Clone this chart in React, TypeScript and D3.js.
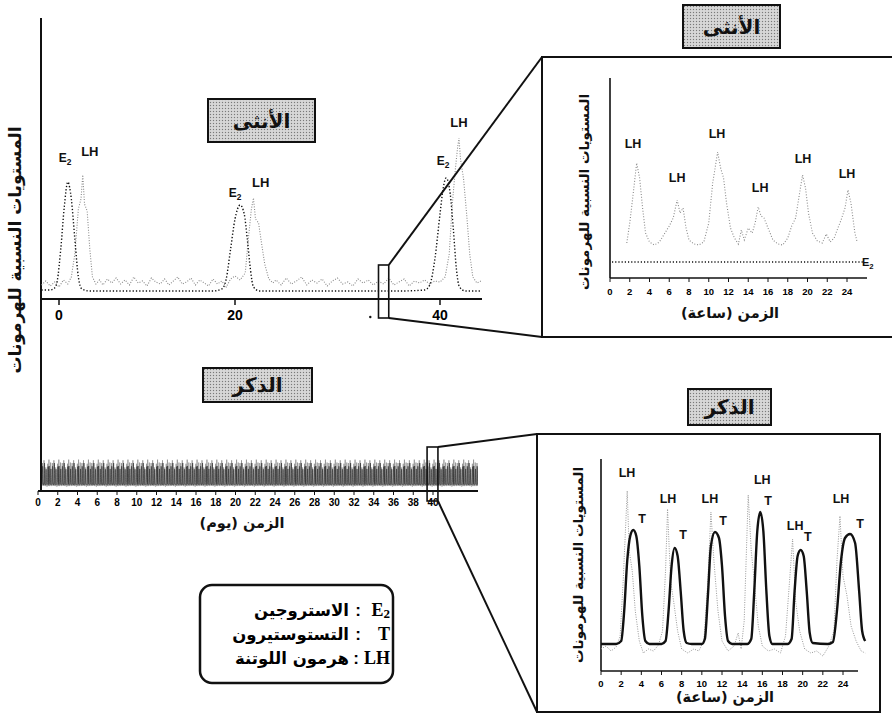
import React from 'react';
import * as d3 from 'd3';

// ---- female, 44 days (day, relative level) ----
const e2FemaleDays = [
  [-2, 9], [-1, 9], [-0.5, 11], [-0.2, 18], [0.2, 50], [0.6, 92], [1.0, 117], [1.4, 100], [1.8, 60],
  [2.2, 22], [2.6, 10], [3.5, 8], [8, 8], [13, 8], [17.5, 8], [18.5, 10], [19.0, 20], [19.5, 50],
  [20.0, 80], [20.5, 94], [20.9, 85], [21.2, 60], [21.5, 30], [21.8, 12], [22.4, 8], [27, 8], [32, 8],
  [36, 8], [38.5, 9], [39.0, 14], [39.5, 40], [40.0, 85], [40.3, 110], [40.6, 121], [41.0, 105],
  [41.3, 70], [41.6, 30], [41.9, 12], [42.5, 8], [44, 8],
];
const lhFemaleDays = [
  [-2, 14], [-1.5, 18], [-1, 13], [-0.5, 17], [0, 12], [0.5, 19], [1, 15], [1.4, 22], [1.8, 45],
  [2.2, 90], [2.5, 100], [2.7, 124], [2.9, 95], [3.2, 88], [3.5, 50], [3.8, 22], [4.2, 15], [4.6, 19],
  [5, 14], [5.5, 20], [6, 16], [6.5, 21], [7, 15], [7.5, 19], [8, 14], [8.5, 22], [9, 16], [9.5, 18],
  [10, 13], [10.5, 21], [11, 17], [11.5, 15], [12, 20], [12.5, 14], [13, 18], [13.5, 22], [14, 15],
  [14.5, 17], [15, 21], [15.5, 14], [16, 19], [16.5, 16], [17, 13], [17.5, 20], [18, 15], [18.5, 18],
  [19, 12], [19.5, 20], [20, 23], [20.5, 19], [21, 26], [21.3, 60], [21.6, 90], [21.8, 101], [22.0, 80],
  [22.3, 76], [22.6, 55], [22.9, 35], [23.3, 20], [23.7, 16], [24, 19], [24.5, 14], [25, 21], [25.5, 15],
  [26, 18], [26.5, 22], [27, 14], [27.5, 19], [28, 16], [28.5, 20], [29, 13], [29.5, 18], [30, 21],
  [30.5, 15], [31, 17], [31.5, 13], [32, 20], [32.5, 16], [33, 19], [33.5, 14], [34, 18], [34.5, 15],
  [35, 21], [35.5, 14], [36, 17], [36.5, 20], [37, 13], [37.5, 18], [38, 16], [38.5, 19], [39, 15],
  [39.5, 18], [40, 17], [40.5, 22], [40.9, 45], [41.2, 95], [41.5, 130], [41.7, 150], [41.85, 161],
  [42.0, 140], [42.3, 120], [42.6, 85], [42.9, 45], [43.2, 22], [43.6, 16], [44, 18],
];
const femaleDayTicks = [0, 20, 40];
const femaleMainLabels = [
  { t: 'E', s: '2', x: 0.7, v: 137 }, { t: 'LH', x: 3.5, v: 143 },
  { t: 'E', s: '2', x: 20, v: 102 }, { t: 'LH', x: 22.5, v: 112 },
  { t: 'E', s: '2', x: 40.3, v: 134 }, { t: 'LH', x: 41.85, v: 172 },
];
const femaleZoomDays = [34, 35];

// ---- female, 24 hours ----
const lhFemaleHours = [
  [1.7, 35], [2.0, 55], [2.3, 80], [2.7, 115], [3.0, 100], [3.3, 70], [3.6, 45], [4.0, 36], [4.5, 33],
  [5.0, 36], [5.5, 44], [6.0, 52], [6.4, 60], [6.8, 78], [7.1, 65], [7.4, 70], [7.7, 50], [8.0, 38],
  [8.5, 34], [9.0, 33], [9.5, 36], [10.0, 55], [10.4, 95], [10.9, 126], [11.2, 110], [11.5, 100],
  [11.8, 75], [12.2, 50], [12.6, 40], [13.0, 34], [13.3, 48], [13.6, 38], [14.0, 50], [14.4, 45],
  [14.7, 55], [15.0, 71], [15.3, 62], [15.6, 60], [16.0, 50], [16.5, 38], [17.0, 34], [17.5, 33],
  [18.0, 40], [18.4, 52], [18.8, 60], [19.2, 85], [19.5, 103], [19.8, 90], [20.1, 65], [20.5, 45],
  [21.0, 37], [21.5, 35], [21.9, 44], [22.3, 36], [22.7, 40], [23.0, 48], [23.4, 58], [23.8, 70],
  [24.1, 88], [24.4, 75], [24.8, 45], [25.0, 37],
];
const e2FemaleHours = [[0.2, 16], [25.6, 16]];
const femaleHourLabels = [
  { t: 'LH', x: 2.33, v: 130 }, { t: 'LH', x: 6.8, v: 96 }, { t: 'LH', x: 10.84, v: 140 },
  { t: 'LH', x: 15.2, v: 86 }, { t: 'LH', x: 19.55, v: 115 }, { t: 'LH', x: 24, v: 100 },
];
const hourTicks = [0, 2, 4, 6, 8, 10, 12, 14, 16, 18, 20, 22, 24];

// ---- male, 24 hours ----
const tMaleHours = [
  [0, 27], [1.5, 27], [2.0, 30], [2.3, 60], [2.6, 110], [2.9, 135], [3.2, 141], [3.5, 135], [3.8, 105],
  [4.1, 55], [4.4, 30], [4.8, 27], [6.0, 27], [6.4, 30], [6.7, 60], [7.0, 105], [7.3, 123], [7.6, 115],
  [7.9, 80], [8.2, 40], [8.5, 28], [9.0, 27], [10.0, 27], [10.3, 32], [10.6, 75], [10.9, 125],
  [11.3, 139], [11.7, 133], [12.0, 105], [12.3, 55], [12.6, 30], [13.0, 27], [14.5, 27], [14.9, 32],
  [15.2, 80], [15.5, 140], [15.8, 159], [16.1, 140], [16.4, 80], [16.7, 35], [17.0, 27], [18.5, 27],
  [18.9, 32], [19.2, 80], [19.5, 115], [19.8, 121], [20.1, 115], [20.4, 80], [20.7, 38], [21.0, 28],
  [22.5, 27], [23.0, 29], [23.4, 60], [23.8, 110], [24.2, 133], [24.7, 137], [25.2, 128], [25.6, 80],
  [25.9, 40], [26.2, 30],
];
const lhMaleHours = [
  [0, 22], [0.5, 25], [1.0, 20], [1.5, 24], [1.9, 35], [2.2, 90], [2.6, 180], [2.8, 120], [3.1, 100],
  [3.4, 60], [3.8, 30], [4.2, 18], [4.7, 22], [5.2, 20], [5.7, 26], [6.1, 40], [6.4, 100], [6.6, 162],
  [6.9, 90], [7.2, 70], [7.6, 40], [8.0, 22], [8.6, 18], [9.2, 22], [9.7, 20], [10.2, 30], [10.6, 90],
  [10.9, 159], [11.2, 110], [11.6, 60], [12.0, 30], [12.6, 20], [13.2, 25], [13.6, 38], [13.9, 22],
  [14.2, 50], [14.6, 176], [14.9, 120], [15.2, 90], [15.6, 45], [16.0, 25], [16.6, 20], [17.2, 22],
  [17.8, 18], [18.3, 35], [18.7, 90], [19.0, 132], [19.3, 70], [19.7, 40], [20.2, 22], [20.8, 18],
  [21.4, 20], [22.0, 15], [22.6, 25], [23.1, 40], [23.4, 110], [23.7, 155], [24.0, 95], [24.4, 75],
  [24.8, 45], [25.3, 30], [25.8, 20], [26.2, 18],
];
const maleHourLabels = [
  { t: 'LH', x: 2.58, v: 194 }, { t: 'T', x: 4.07, v: 148 },
  { t: 'LH', x: 6.65, v: 168 }, { t: 'T', x: 8.13, v: 132 },
  { t: 'LH', x: 10.8, v: 168 }, { t: 'T', x: 12.1, v: 146 },
  { t: 'LH', x: 16.0, v: 187 }, { t: 'T', x: 16.57, v: 166 },
  { t: 'LH', x: 19.25, v: 141 }, { t: 'T', x: 20.5, v: 130 },
  { t: 'LH', x: 23.8, v: 168 }, { t: 'T', x: 25.7, v: 143 },
];

// ---- male, 40 days ----
const maleDayTicks = d3.range(0, 41, 2);
const maleDays = d3.range(0, 45);
const maleZoomDays = [39.4, 40.5];

const yLabel = 'المستويات النسبية للهرمونات';
const hourLabel = 'الزمن (ساعة)';
const dayLabel = 'الزمن (يوم)';
const femaleTitle = 'الأنثى';
const maleTitle = 'الذكر';
const legendRows = [
  { sym: 'E', sub: '2', name: 'الاستروجين' },
  { sym: 'T', sub: '', name: 'التستوستيرون' },
  { sym: 'LH', sub: '', name: 'هرمون اللوتنة' },
];

const AR = '"DejaVu Sans", sans-serif';
const LAT = '"Liberation Sans", Arial, sans-serif';

const TitleBox = ({ x, y, w, h, label }) => (
  <g>
    <rect x={x} y={y} width={w} height={h} fill="url(#stip)" stroke="#111" strokeWidth={2} />
    <text x={x + w / 2} y={y + h / 2 + 7} textAnchor="middle" fontFamily={AR} fontWeight="bold"
      fontSize={20} fill="#111">{label}</text>
  </g>
);

const PeakLabel = ({ x, y, t, s, size = 12 }) => (
  <text x={x} y={y} textAnchor="middle" fontFamily={LAT} fontWeight="bold" fontSize={size} fill="#111">
    {t}{s ? <tspan fontSize={size * 0.7} dy={3}>{s}</tspan> : null}
  </text>
);

export default function App() {
  // scales
  const fx = d3.scaleLinear().domain([0, 20, 40]).range([59, 235, 440]);
  const fy = d3.scaleLinear().domain([0, 200]).range([299, 99]);
  const px = d3.scaleLinear().domain([0, 24]).range([610, 847]);
  const py = d3.scaleLinear().domain([0, 200]).range([278, 78]);
  const mx = d3.scaleLinear().domain([0, 40]).range([38, 433]);
  const my = d3.scaleLinear().domain([0, 190]).range([489, 458]);
  const qx = d3.scaleLinear().domain([0, 24]).range([601, 843]);
  const qy = d3.scaleLinear().domain([0, 212]).range([671, 459]);

  const fLine = d3.line().x(d => fx(d[0])).y(d => fy(d[1]));
  const fSmooth = d3.line().x(d => fx(d[0])).y(d => fy(d[1])).curve(d3.curveMonotoneX);
  const pLine = d3.line().x(d => px(d[0])).y(d => py(d[1]));
  const qLine = d3.line().x(d => qx(d[0])).y(d => qy(d[1]));
  const qSmooth = d3.line().x(d => qx(d[0])).y(d => qy(d[1])).curve(d3.curveMonotoneX);

  const fRect = { x0: fx(femaleZoomDays[0]), x1: fx(femaleZoomDays[1]) };
  const mRect = { x0: mx(maleZoomDays[0]), x1: mx(maleZoomDays[1]) };

  // panel frames
  const fp = { x: 542, y: 57, b: 337 };
  const mp = { x: 537, y: 434, r: 880, b: 712 };

  return (
    <svg width={892} height={727} style={{ display: 'block', position: 'absolute', left: 0, top: 0, background: '#fff' }}>
      <defs>
        <pattern id="stip" width="3" height="3" patternUnits="userSpaceOnUse">
          <rect width="3" height="3" fill="#cfcfcf" />
          <rect x="0" y="0" width="1" height="1" fill="#7a7a7a" />
          <rect x="1.5" y="1.5" width="1" height="1" fill="#f2f2f2" />
        </pattern>
        <clipPath id="band">
          <rect x={42} y={440} width={436} height={50} />
        </clipPath>
      </defs>
      <rect width={892} height={727} fill="#fff" />

      {/* shared y label and axis */}
      <text transform="translate(21,250) rotate(-90)" textAnchor="middle" fontFamily={AR} fontWeight="bold"
        fontSize={17} fill="#111">{yLabel}</text>
      <line x1={41} y1={18} x2={41} y2={492} stroke="#111" strokeWidth={2} />

      {/* ---------- female main ---------- */}
      <TitleBox x={208} y={99} w={107} h={43} label={femaleTitle} />
      <line x1={41} y1={fy(0)} x2={482} y2={fy(0)} stroke="#111" strokeWidth={2} />
      {femaleDayTicks.map(t => (
        <g key={t}>
          <line x1={fx(t)} x2={fx(t)} y1={fy(0)} y2={fy(0) + 6} stroke="#111" strokeWidth={1.5} />
          <text x={fx(t)} y={fy(0) + 21} textAnchor="middle" fontFamily={LAT} fontWeight="bold" fontSize={14}>{t}</text>
        </g>
      ))}
      <path d={fLine(lhFemaleDays)} fill="none" stroke="#8a8a8a" strokeWidth={1.1} strokeDasharray="1 1.6" />
      <path d={fSmooth(e2FemaleDays)} fill="none" stroke="#111" strokeWidth={1.4} strokeDasharray="1.3 2" />
      {femaleMainLabels.map((l, i) => (
        <PeakLabel key={i} x={fx(l.x)} y={fy(l.v)} t={l.t} s={l.s} size={l.s ? 12 : 13} />
      ))}
      <circle cx={fx(33.2)} cy={317} r={1.2} fill="#111" />
      <rect x={fRect.x0} y={265} width={fRect.x1 - fRect.x0} height={53} fill="none" stroke="#111" strokeWidth={1.6} />
      <line x1={fRect.x1} y1={265} x2={fp.x} y2={fp.y} stroke="#111" strokeWidth={2} />
      <line x1={fRect.x1} y1={318} x2={fp.x} y2={fp.b} stroke="#111" strokeWidth={2} />

      {/* ---------- female 24h panel ---------- */}
      <TitleBox x={683} y={5} w={97} h={43} label={femaleTitle} />
      <rect x={fp.x} y={fp.y} width={400} height={fp.b - fp.y} fill="none" stroke="#111" strokeWidth={2} />
      <text transform={`translate(589,${(fp.y + fp.b) / 2 - 5}) rotate(-90)`} textAnchor="middle" fontFamily={AR}
        fontWeight="bold" fontSize={13.5} fill="#111">{yLabel}</text>
      <line x1={px(0)} y1={78} x2={px(0)} y2={py(0)} stroke="#111" strokeWidth={1.6} />
      <line x1={px(0)} y1={py(0)} x2={867} y2={py(0)} stroke="#111" strokeWidth={1.6} />
      {hourTicks.map(t => (
        <g key={t}>
          <line x1={px(t)} x2={px(t)} y1={py(0)} y2={py(0) + 4} stroke="#111" strokeWidth={1} />
          <text x={px(t)} y={py(0) + 17} textAnchor="middle" fontFamily={LAT} fontWeight="bold" fontSize={9.5}>{t}</text>
        </g>
      ))}
      <path d={pLine(e2FemaleHours)} fill="none" stroke="#111" strokeWidth={1.3} strokeDasharray="1.2 2" />
      <PeakLabel x={px(26.1)} y={py(12)} t="E" s="2" size={11} />
      <path d={pLine(lhFemaleHours)} fill="none" stroke="#8a8a8a" strokeWidth={1.1} strokeDasharray="1 1.8" />
      {femaleHourLabels.map((l, i) => (
        <PeakLabel key={i} x={px(l.x)} y={py(l.v)} t={l.t} size={12.5} />
      ))}
      <text x={730} y={318} textAnchor="middle" fontFamily={AR} fontWeight="bold" fontSize={14.5} fill="#111">{hourLabel}</text>

      {/* ---------- male main ---------- */}
      <TitleBox x={203} y={368} w={109} h={34} label={maleTitle} />
      <g clipPath="url(#band)">
        {maleDays.map(d => (
          <path key={'l' + d}
            d={d3.line().x(p => mx(d + p[0] / 24)).y(p => my(p[1]))(lhMaleHours)}
            fill="none" stroke="#8c8c8c" strokeWidth={0.7} />
        ))}
        {maleDays.map(d => (
          <path key={'t' + d}
            d={d3.line().x(p => mx(d + p[0] / 24)).y(p => my(p[1])).curve(d3.curveMonotoneX)(tMaleHours)}
            fill="none" stroke="#222" strokeWidth={0.6} />
        ))}
      </g>
      <line x1={38} y1={491} x2={478} y2={491} stroke="#111" strokeWidth={2} />
      {maleDayTicks.map(t => (
        <g key={t}>
          <line x1={mx(t)} x2={mx(t)} y1={491} y2={495} stroke="#111" strokeWidth={1} />
          <text x={mx(t)} y={506} textAnchor="middle" fontFamily={LAT} fontWeight="bold" fontSize={10}>{t}</text>
        </g>
      ))}
      <text x={242} y={528} textAnchor="middle" fontFamily={AR} fontWeight="bold" fontSize={14.5} fill="#111">{dayLabel}</text>
      <rect x={mRect.x0} y={447} width={mRect.x1 - mRect.x0} height={54} fill="none" stroke="#111" strokeWidth={1.6} />
      <line x1={mRect.x1} y1={447} x2={mp.x} y2={mp.y} stroke="#111" strokeWidth={2} />
      <line x1={mRect.x1} y1={501} x2={mp.x} y2={mp.b} stroke="#111" strokeWidth={2} />

      {/* ---------- male 24h panel ---------- */}
      <TitleBox x={688} y={389} w={83} h={36} label={maleTitle} />
      <rect x={mp.x} y={mp.y} width={mp.r - mp.x} height={mp.b - mp.y} fill="none" stroke="#111" strokeWidth={2} />
      <text transform={`translate(583,${qy(106)}) rotate(-90)`} textAnchor="middle" fontFamily={AR}
        fontWeight="bold" fontSize={13.5} fill="#111">{yLabel}</text>
      <line x1={qx(0)} y1={qy(212)} x2={qx(0)} y2={qy(0)} stroke="#111" strokeWidth={1.6} />
      <line x1={qx(0)} y1={qy(0)} x2={858} y2={qy(0)} stroke="#111" strokeWidth={1.6} />
      {hourTicks.map(t => (
        <g key={t}>
          <line x1={qx(t)} x2={qx(t)} y1={qy(0)} y2={qy(0) + 4} stroke="#111" strokeWidth={1} />
          <text x={qx(t)} y={qy(0) + 16} textAnchor="middle" fontFamily={LAT} fontWeight="bold" fontSize={9.5}>{t}</text>
        </g>
      ))}
      <path d={qLine(lhMaleHours)} fill="none" stroke="#999" strokeWidth={1} strokeDasharray="1 1.4" />
      <path d={qSmooth(tMaleHours)} fill="none" stroke="#111" strokeWidth={2.4} />
      {maleHourLabels.map((l, i) => (
        <PeakLabel key={i} x={qx(l.x)} y={qy(l.v)} t={l.t} size={12.5} />
      ))}
      <text x={725} y={702} textAnchor="middle" fontFamily={AR} fontWeight="bold" fontSize={14.5} fill="#111">{hourLabel}</text>

      {/* ---------- legend ---------- */}
      <rect x={200} y={585} width={193} height={98} rx={12} fill="#fff" stroke="#111" strokeWidth={2.5} />
      {legendRows.map((r, i) => {
        const y = 616 + i * 24;
        return (
          <g key={i}>
            <text x={390} y={y} textAnchor="end" fontFamily='"Liberation Serif", serif' fontWeight="bold" fontSize={18}>
              {r.sym}{r.sub ? <tspan fontSize={13} dy={2}>{r.sub}</tspan> : null}
            </text>
            <text x={i === 2 ? 356 : 358} y={y} textAnchor="middle" fontFamily={LAT} fontWeight="bold" fontSize={17}>:</text>
            <text x={349} y={y} textAnchor="end" fontFamily={AR} fontWeight="bold" fontSize={16.5}>{r.name}</text>
          </g>
        );
      })}
    </svg>
  );
}
